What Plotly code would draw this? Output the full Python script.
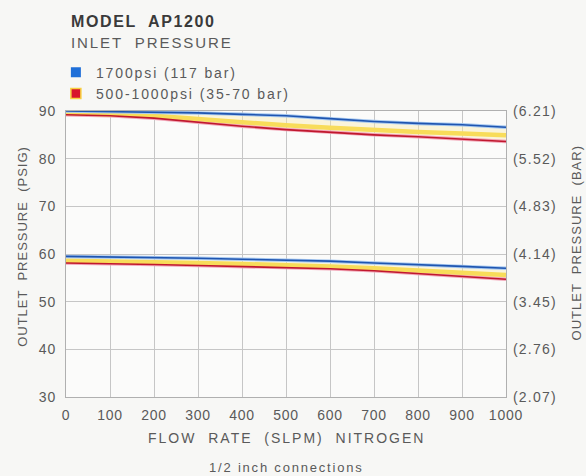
import plotly.graph_objects as go

# ---- data ----
flow = [0, 100, 200, 300, 400, 500, 600, 700, 800, 900, 1000]

blue_hi = [90.0, 89.9, 89.7, 89.6, 89.3, 89.0, 88.4, 87.8, 87.4, 87.1, 86.6]
yell_hi = [89.6, 89.4, 89.0, 88.3, 87.6, 87.0, 86.5, 86.0, 85.6, 85.3, 84.9]
red_hi = [89.2, 89.0, 88.5, 87.6, 86.8, 86.1, 85.5, 85.0, 84.6, 84.1, 83.6]

blue_lo = [59.5, 59.4, 59.3, 59.1, 58.9, 58.7, 58.5, 58.1, 57.8, 57.4, 57.0]
yell_lo = [58.6, 58.5, 58.3, 58.1, 57.9, 57.7, 57.4, 57.0, 56.6, 56.1, 55.6]
red_lo = [58.1, 58.0, 57.8, 57.6, 57.4, 57.2, 56.9, 56.5, 55.9, 55.3, 54.7]

psi_ticks = [30, 40, 50, 60, 70, 80, 90]
bar_labels = ["(2.07)", "(2.76)", "(3.45)", "(4.14)", "(4.83)", "(5.52)", "(6.21)"]
x_ticks = [0, 100, 200, 300, 400, 500, 600, 700, 800, 900, 1000]

BLUE = "#1f55b0"
BLUE_HALO = "#a6c8f0"
RED = "#c0182e"
RED_HALO = "#f2a6b8"
YELLOW = "#f8dc5a"
TXT = "#5a5a5a"
FONT = "Liberation Sans, Arial, sans-serif"


def sp(text, ls=1.5):
    return f"<span style='letter-spacing:{ls}px'>{text}</span>"


fig = go.Figure()


def add_group(blue, yell, red):
    fig.add_trace(go.Scatter(x=flow, y=red, mode="lines", line=dict(color=RED_HALO, width=3.5),
                             showlegend=False, hoverinfo="skip"))
    fig.add_trace(go.Scatter(x=flow, y=blue, mode="lines", line=dict(color="rgba(0,0,0,0)", width=0),
                             fill="tonexty", fillcolor="rgba(250,236,170,0.4)",
                             showlegend=False, hoverinfo="skip"))
    fig.add_trace(go.Scatter(x=flow, y=yell, mode="lines", line=dict(color=YELLOW, width=4.5),
                             showlegend=False, hoverinfo="skip"))
    fig.add_trace(go.Scatter(x=flow, y=red, mode="lines", line=dict(color=RED, width=1.6),
                             showlegend=False, hoverinfo="skip"))
    fig.add_trace(go.Scatter(x=flow, y=blue, mode="lines", line=dict(color=BLUE_HALO, width=3.5),
                             showlegend=False, hoverinfo="skip"))
    fig.add_trace(go.Scatter(x=flow, y=blue, mode="lines", line=dict(color=BLUE, width=1.6),
                             showlegend=False, hoverinfo="skip"))


add_group(blue_hi, yell_hi, red_hi)
add_group(blue_lo, yell_lo, red_lo)

# legend entries
fig.add_trace(go.Scatter(x=[None], y=[None], mode="markers", name=sp("1700psi (117 bar)", 1.9),
                         legendgroup="a",
                         marker=dict(symbol="square", size=10, color="#1f6fd8")))
fig.add_trace(go.Scatter(x=[None], y=[None], mode="markers", name=sp("500-1000psi (35-70 bar)", 1.9),
                         legendgroup="b",
                         marker=dict(symbol="square", size=10, color="#d8142c",
                                     line=dict(color="#f8d040", width=1.5))))

# invisible trace on the right axis
fig.add_trace(go.Scatter(x=[0, 1000], y=[30, 90], yaxis="y2", mode="lines",
                         line=dict(width=0, color="rgba(0,0,0,0)"), showlegend=False,
                         hoverinfo="skip"))

TICKFONT = dict(family=FONT, size=14, color=TXT)
axis_common = dict(showgrid=True, gridcolor="#c6c6c6", gridwidth=1.3,
                   showline=True, linecolor="#b0b0b0", linewidth=1.3, mirror=True,
                   zeroline=False, tickfont=TICKFONT, ticks="", automargin=False)

fig.update_layout(
    width=586, height=476,
    margin=dict(l=66, r=80, t=111, b=79, autoexpand=False),
    paper_bgcolor="#f7f7f5", plot_bgcolor="#fbfbfa",
    font=dict(family=FONT, color=TXT),
    xaxis=dict(range=[0, 1000], tickvals=x_ticks, ticktext=[sp(str(v), 0.8) for v in x_ticks],
               ticklabelstandoff=5, **axis_common),
    yaxis=dict(range=[30, 90], tickvals=psi_ticks, ticktext=[sp(str(v), 0.8) for v in psi_ticks],
               ticklabelstandoff=6, **axis_common),
    yaxis2=dict(range=[30, 90], overlaying="y", side="right", tickvals=psi_ticks,
                ticktext=[sp(t, 1.2) for t in bar_labels], showgrid=False, zeroline=False,
                showline=False, ticks="", ticklabelstandoff=6, automargin=False,
                tickfont=TICKFONT),
    legend=dict(x=-0.023, xanchor="left", y=1.19, yanchor="top", bgcolor="rgba(0,0,0,0)",
                font=dict(family=FONT, size=14, color=TXT), itemwidth=30,
                traceorder="normal", tracegroupgap=4),
    annotations=[
        dict(text="<b>" + sp("MODEL  AP1200", 1.6) + "</b>", xref="paper", yref="paper",
             x=0.006, y=1.313, xanchor="left", yanchor="middle", showarrow=False,
             font=dict(family=FONT, size=16, color="#3a3a3a")),
        dict(text=sp("INLET  PRESSURE", 1.9), xref="paper", yref="paper", x=0.006, y=1.241,
             xanchor="left", yanchor="middle", showarrow=False,
             font=dict(family=FONT, size=15, color=TXT)),
        dict(text=sp("FLOW  RATE  (SLPM)  NITROGEN", 2.0), xref="paper", yref="paper",
             x=0.5, y=-0.143, xanchor="center", yanchor="middle", showarrow=False,
             font=dict(family=FONT, size=14, color=TXT)),
        dict(text=sp("1/2 inch connections", 1.8), xref="paper", yref="paper",
             x=0.5, y=-0.245, xanchor="center", yanchor="middle", showarrow=False,
             font=dict(family=FONT, size=13, color=TXT)),
        dict(text=sp("OUTLET  PRESSURE  (PSIG)", 1.0), xref="paper", yref="paper",
             x=-0.098, y=0.528, xanchor="center", yanchor="middle", textangle=-90,
             showarrow=False, font=dict(family=FONT, size=13, color=TXT)),
        dict(text=sp("OUTLET  PRESSURE  (BAR)", 1.0), xref="paper", yref="paper",
             x=1.161, y=0.54, xanchor="center", yanchor="middle", textangle=-90,
             showarrow=False, font=dict(family=FONT, size=13, color=TXT)),
    ],
)

fig.write_html("out.html", config={"displayModeBar": False},
               post_script="document.body.style.margin='0px';")
